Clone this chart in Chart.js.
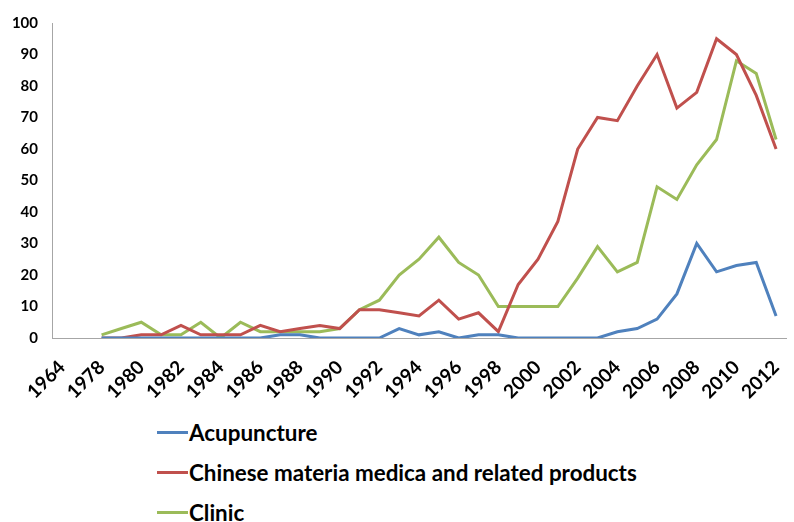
<!DOCTYPE html>
<html>
<head>
<meta charset="utf-8">
<script src="https://cdn.jsdelivr.net/npm/chart.js@4"></script>
<style>
  html, body { margin: 0; padding: 0; background: #fff; }
  #wrap { position: relative; width: 794px; height: 522px; }
  #chart-box { position: absolute; left: 0; top: 0; width: 794px; height: 400px; }
  #legend { position: absolute; left: 157px; top: 412px; font-family: Lato, "Liberation Sans", sans-serif;
            font-weight: bold; font-size: 22.4px; color: #000; }
  #legend ul { list-style: none; margin: 0; padding: 0; }
  #legend li { display: flex; align-items: center; height: 40px; margin: 0; }
  #legend .swatch { display: inline-block; width: 31px; height: 3px; margin-right: 1px; }
</style>
</head>
<body>
<div id="wrap">
  <div id="chart-box"><canvas id="trend"></canvas></div>
  <div id="legend"></div>
</div>
<script>
// years on the category axis (1964 sits before the continuous run)
var years = ['1964', '1977'];
for (var yr = 1978; yr <= 2012; yr++) years.push(String(yr));

// counts per year, 1978..2012 (first two categories have no data)
var acupuncture = [null, null,
  0, 0, 0, 0, 0, 0, 0, 0, 0, 1,
  1, 0, 0, 0, 0, 3, 1, 2, 0, 1,
  1, 0, 0, 0, 0, 0, 2, 3, 6, 14,
  30, 21, 23, 24, 7];
var materiaMedica = [null, null,
  0, 0, 1, 1, 4, 1, 1, 1, 4, 2,
  3, 4, 3, 9, 9, 8, 7, 12, 6, 8,
  2, 17, 25, 37, 60, 70, 69, 80, 90, 73,
  78, 95, 90, 77, 60];
var clinic = [null, null,
  1, 3, 5, 1, 1, 5, 0, 5, 2, 2,
  2, 2, 3, 9, 12, 20, 25, 32, 24, 20,
  10, 10, 10, 10, 19, 29, 21, 24, 48, 44,
  55, 63, 88, 84, 63];

var seriesNames = ['Acupuncture', 'Chinese materia medica and related products', 'Clinic'];
var seriesColors = ['#4F81BD', '#C0504D', '#9BBB59'];
var yTicks = { min: 0, max: 100, step: 10 };

var baseFont = 'Lato, "Liberation Sans", sans-serif';

// vertical legend below the canvas, built from the chart's own legend items
var htmlLegend = {
  id: 'htmlLegend',
  afterUpdate: function(chart) {
    var box = document.getElementById('legend');
    box.innerHTML = '';
    var ul = document.createElement('ul');
    chart.options.plugins.legend.labels.generateLabels(chart).forEach(function(item) {
      var li = document.createElement('li');
      var sw = document.createElement('span');
      sw.className = 'swatch';
      sw.style.background = item.strokeStyle;
      var txt = document.createElement('span');
      txt.textContent = item.text;
      li.appendChild(sw);
      li.appendChild(txt);
      ul.appendChild(li);
    });
    box.appendChild(ul);
  }
};

var datasets = [acupuncture, materiaMedica, clinic].map(function(vals, i) {
  return {
    label: seriesNames[i],
    data: vals,
    borderColor: seriesColors[i],
    backgroundColor: seriesColors[i],
    borderWidth: 3,
    pointRadius: 0,
    tension: 0,
    fill: false,
    spanGaps: false
  };
});

new Chart(document.getElementById('trend'), {
  type: 'line',
  data: { labels: years, datasets: datasets },
  plugins: [htmlLegend],
  options: {
    responsive: true,
    maintainAspectRatio: false,
    animation: false,
    layout: { padding: { top: 5, right: 8, left: 0, bottom: 0 } },
    plugins: {
      legend: { display: false },
      tooltip: { enabled: false }
    },
    scales: {
      x: {
        offset: true,
        grid: { display: false, drawTicks: false },
        border: { display: true, color: '#A6A6A6', width: 1 },
        // labels sit well below the axis; keep the band fixed and let the
        // plot run to the edges instead of reserving room for the slant
        afterFit: function(scale) {
          scale.height = 62;
          scale.paddingLeft = 0;
          scale.paddingRight = 0;
        },
        ticks: {
          autoSkip: false,
          maxRotation: 45,
          minRotation: 45,
          padding: 18,
          color: '#000',
          font: { family: baseFont, size: 19, weight: 'bold' },
          callback: function(val, idx) {
            return idx % 2 === 0 ? this.getLabelForValue(val) : '';
          }
        }
      },
      y: {
        min: yTicks.min,
        max: yTicks.max,
        grid: { display: false, drawTicks: false },
        border: { display: true, color: '#A6A6A6', width: 1 },
        afterFit: function(scale) {
          scale.width = 52;
        },
        ticks: {
          stepSize: yTicks.step,
          padding: 14,
          color: '#000',
          font: { family: baseFont, size: 15, weight: 'bold' }
        }
      }
    }
  }
});
</script>
</body>
</html>
